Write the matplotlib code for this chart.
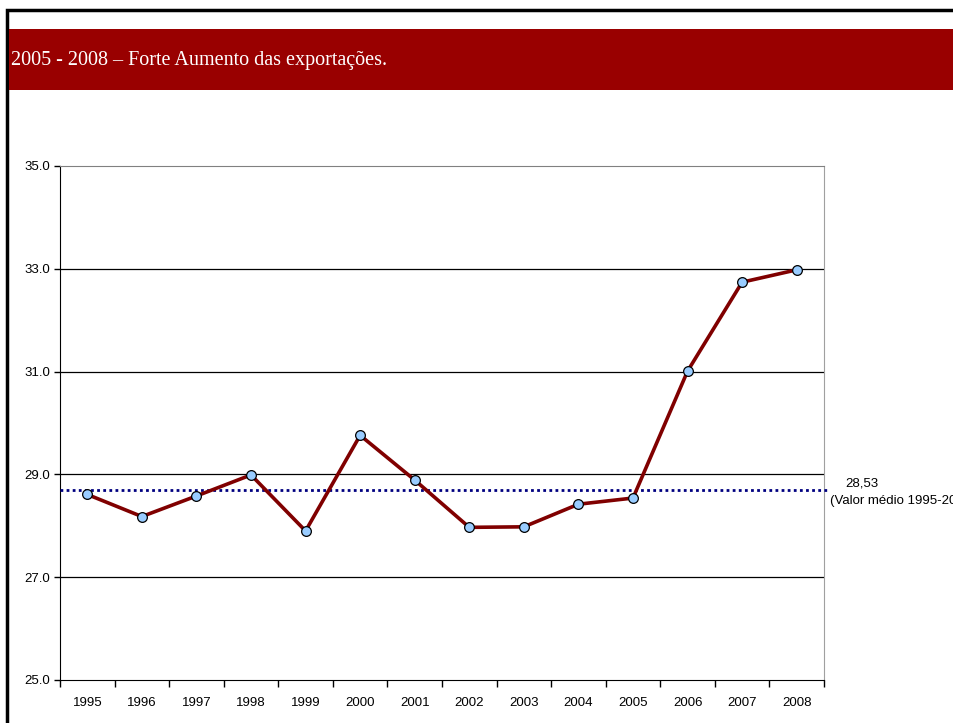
import matplotlib.pyplot as plt
import matplotlib.patches as patches

years = ['1995', '1996', '1997', '1998', '1999', '2000', '2001',
         '2002', '2003', '2004', '2005', '2006', '2007', '2008']
values = [28.61, 28.18, 28.58, 28.99, 27.90, 29.76, 28.89,
          27.97, 27.98, 28.42, 28.54, 31.01, 32.74, 32.98]
mean_line = 28.70
mean_label = '28,53'
mean_note = '(Valor médio 1995-2005)'
title = '2005 - 2008 – Forte Aumento das exportações.'

W, H = 954, 723
fig = plt.figure(figsize=(W / 100, H / 100), dpi=100)

# slide frame and title banner
fig.add_artist(patches.Rectangle((7 / W, -0.2), 1.2, 1.2 - 10 / H, transform=fig.transFigure,
                                 fill=False, edgecolor='black', linewidth=2.5))
fig.add_artist(patches.Rectangle((9 / W, 1 - 90 / H), 1.0, 61 / H, transform=fig.transFigure,
                                 facecolor='#990000', edgecolor='none'))
fig.text(11 / W, 1 - 61 / H, title, color='white', fontsize=14.5,
         family='Liberation Serif', va='center', ha='left')

ax = fig.add_axes([60 / W, 1 - 680 / H, 764 / W, 514 / H])
x = list(range(len(years)))
ax.plot(x, values, color='#800000', linewidth=2.6, marker='o', markersize=7,
        markerfacecolor='#99CCFF', markeredgecolor='black', markeredgewidth=0.9, zorder=4)
ax.plot([-0.5, len(years) - 0.45], [mean_line, mean_line], color='#000080',
        linestyle=(0, (1, 1.2)), linewidth=2, zorder=3, clip_on=False)

ax.set_xlim(-0.5, len(years) - 0.5)
ax.set_ylim(25, 35)
ax.set_yticks([25, 27, 29, 31, 33, 35])
ax.set_yticklabels(['25.0', '27.0', '29.0', '31.0', '33.0', '35.0'],
                   family='Liberation Sans', fontsize=9.5)
ax.set_xticks(x)
ax.set_xticklabels(years, family='Liberation Sans', fontsize=9.5)
ax.set_xticks([i - 0.5 for i in range(len(years) + 1)], minor=True)
ax.tick_params(axis='x', which='major', length=0, pad=12)
ax.tick_params(axis='x', which='minor', length=5, width=1, direction='out')
ax.tick_params(axis='y', length=4, width=1, direction='out', pad=3)

for v in [27, 29, 31, 33]:
    ax.axhline(v, color='black', linewidth=0.9, zorder=1)
ax.spines['top'].set_color('#808080')
ax.spines['right'].set_color('#a0a0a0')
ax.spines['left'].set_color('black')
ax.spines['bottom'].set_color('black')

# mean label sits at the right edge, cut by the slide border as in the source
fig.text(845 / W, 1 - 483 / H, mean_label, family='Liberation Sans', fontsize=9.5,
         va='center', ha='left')
fig.text(830 / W, 1 - 501 / H, mean_note, family='Liberation Sans', fontsize=9.5,
         va='center', ha='left')

fig.savefig('out.png', dpi=100)
